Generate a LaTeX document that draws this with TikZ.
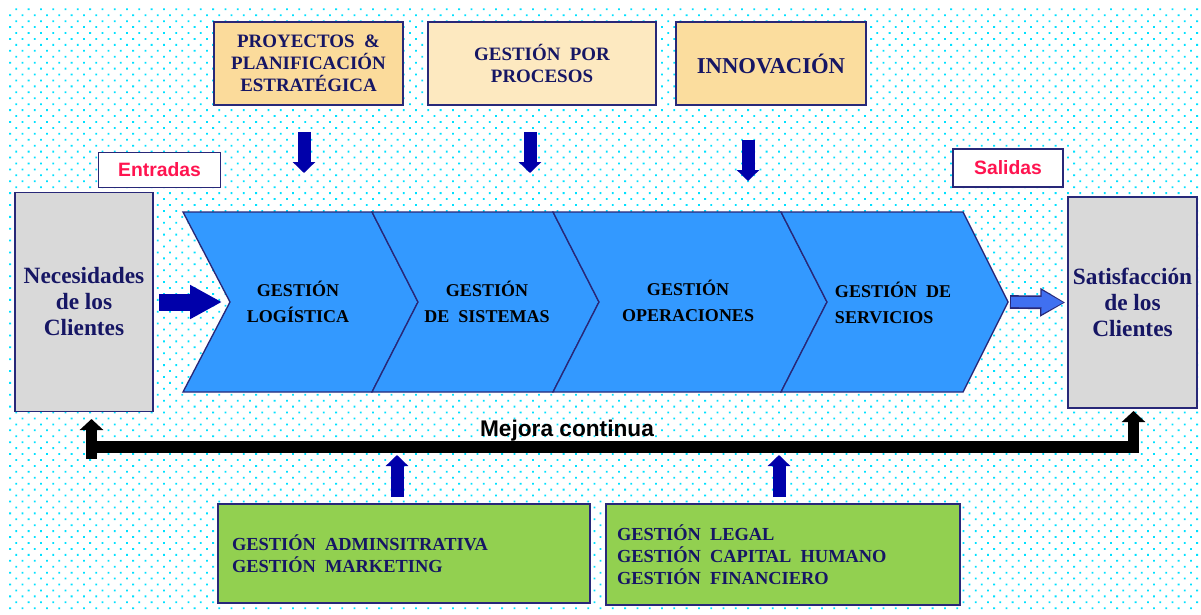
\documentclass[tikz,border=0pt]{standalone}
\usepackage{fontspec}
\setmainfont{Liberation Serif}
\setsansfont{Liberation Sans}
\usetikzlibrary{arrows.meta,calc}

\definecolor{navy}{RGB}{40,40,120}
\definecolor{txtnavy}{RGB}{22,22,100}
\definecolor{orangeA}{RGB}{251,219,155}
\definecolor{orangeB}{RGB}{253,233,192}
\definecolor{orangeC}{RGB}{251,221,158}
\definecolor{boxgray}{RGB}{217,217,217}
\definecolor{chevblue}{RGB}{51,153,255}
\definecolor{boxgreen}{RGB}{146,208,80}
\definecolor{arrblue}{RGB}{0,0,170}
\definecolor{outblue}{RGB}{64,112,240}
\definecolor{entred}{RGB}{255,20,80}
\definecolor{dotcyan}{RGB}{0,225,255}

\begin{document}
\begin{tikzpicture}[x=0.75pt,y=-0.75pt,
  topbox/.style={draw=navy, line width=1.2pt, minimum height=62.25pt, inner sep=0pt,
    align=center, text=txtnavy, font=\bfseries\fontsize{14.2}{16.5}\selectfont},
  labelbox/.style={draw=navy, fill=white, line width=1.2pt, inner sep=0pt, text=entred,
    font=\sffamily\bfseries\fontsize{14.5}{17}\selectfont},
  graybox/.style={draw=navy, fill=boxgray, line width=1.2pt, inner sep=0pt, align=center,
    text=txtnavy, font=\bfseries\fontsize{17.5}{19.5}\selectfont},
  chev/.style={draw=navy, fill=chevblue, line width=1pt, line join=miter},
  chevtext/.style={align=center, inner sep=0pt, text=black,
    font=\bfseries\fontsize{13.5}{19}\selectfont},
  greenbox/.style={draw=navy, fill=boxgreen, line width=1.2pt, align=left, text=txtnavy,
    font=\bfseries\fontsize{13.8}{16.5}\selectfont},
  vertarr/.style={line width=9.75pt, draw=arrblue, -{Triangle[length=8.25pt,width=16.5pt]}},
  leftarr/.style={line width=12.75pt, draw=arrblue, -{Triangle[length=24pt,width=24pt]}},
  fb/.style={line width=8.5pt, draw=black, line join=miter, -{Triangle[length=8.25pt,width=17.25pt]}}
]
\useasboundingbox (0,0) rectangle (1201,614);
\fill[white] (0,0) rectangle (1201,614);
% dotted background
\foreach \r in {0,...,101} {
  \pgfmathsetmacro\yy{9.3+5.93*\r}
  \pgfmathsetmacro\xo{mod(\r,2)==0 ? 16.3 : 10.1}
  \fill[dotcyan] \foreach \c in {0,...,96} { ({\xo+12.3*\c-0.9},{\yy-0.9}) rectangle ++(1.8,1.8) };
}

% top boxes
\node[topbox, fill=orangeA, minimum width=141.75pt] (proy) at (308.5,63.5)
  {PROYECTOS\hspace{0.5em}\&\\PLANIFICACIÓN\\ESTRATÉGICA};
\node[topbox, fill=orangeB, minimum width=171pt] (proc) at (542,63.5)
  {GESTIÓN\hspace{0.5em}POR\\PROCESOS};
\node[topbox, fill=orangeC, minimum width=142.5pt, font=\bfseries\fontsize{17}{20}\selectfont] (innov) at (771,63.5)
  {INNOVACIÓN};

% down arrows
\coordinate (d1s) at (304,132); \coordinate (d1e) at (304,173);
\coordinate (d2s) at (530,132); \coordinate (d2e) at (530,173);
\coordinate (d3s) at (748,140); \coordinate (d3e) at (748,181);
\draw[vertarr] (d1s) -- (d1e);
\draw[vertarr] (d2s) -- (d2e);
\draw[vertarr] (d3s) -- (d3e);

% label boxes
\node[labelbox, minimum width=91.5pt, minimum height=26.25pt] (entr) at (159.5,170) {Entradas};
\node[labelbox, minimum width=82.5pt, minimum height=28.5pt] (sal) at (1008,168) {Salidas};

% gray boxes
\node[graybox, minimum width=103.5pt, minimum height=164.25pt] (nec) at (84,302)
  {Necesidades\\de los\\Clientes};
\node[graybox, minimum width=96.75pt, minimum height=158.25pt] (sat) at (1132.5,302.5)
  {Satisfacción\\de los\\Clientes};

% chevrons
\draw[chev] (183,212) -- (372,212) -- (418,302) -- (372,392) -- (183,392) -- (230,302) -- cycle;
\draw[chev] (372,212) -- (553,212) -- (599,302) -- (553,392) -- (372,392) -- (418,302) -- cycle;
\draw[chev] (553,212) -- (781,212) -- (827,302) -- (781,392) -- (553,392) -- (599,302) -- cycle;
\draw[chev] (781,212) -- (963,212) -- (1008,302) -- (963,392) -- (781,392) -- (827,302) -- cycle;
\coordinate (notch1) at (230,302);
\coordinate (tip4) at (1008,302);

\node[chevtext] (c1) at (298,302) {GESTIÓN\\LOGÍSTICA};
\node[chevtext] (c2) at (487,302) {GESTIÓN\\DE\hspace{0.5em}SISTEMAS};
\node[chevtext] (c3) at (688,301) {GESTIÓN\\OPERACIONES};
\node[chevtext, align=left] (c4) at (893,303) {GESTIÓN\hspace{0.5em}DE\\SERVICIOS};

% input / output arrows
\draw[leftarr] ([xshift=3.75pt]nec.east) -- ([xshift=-6pt]notch1);
\draw[line width=10.25pt, draw=navy, -{Triangle[length=18.75pt,width=20.25pt]}]
  ([xshift=1.5pt]tip4) -- ([xshift=-1.5pt]sat.west);
\draw[line width=7.75pt, draw=outblue, -{Triangle[length=16.5pt,width=16.75pt]}]
  ([xshift=2.25pt]tip4) -- ([xshift=-2.75pt]sat.west);

% feedback loop
\coordinate (fbL0) at (91.5,459);
\coordinate (fbL1) at (91.5,419);
\coordinate (fbB) at (91.5,447);
\coordinate (fbR) at (1133.5,447);
\coordinate (fbR1) at (1133.5,411);
\draw[fb] (fbL0) -- (fbL1);
\draw[fb] (fbB) -- (fbR) -- (fbR1);
\node[font=\sffamily\bfseries\fontsize{17}{20}\selectfont, inner sep=0pt] (mej) at (567,431) {Mejora continua};

% up arrows
\coordinate (u1s) at (397,497); \coordinate (u1e) at (397,455);
\coordinate (u2s) at (779,497); \coordinate (u2e) at (779,455);
\draw[vertarr] (u1s) -- (u1e);
\draw[vertarr] (u2s) -- (u2e);

% green boxes
\node[greenbox, minimum width=279pt, minimum height=74.25pt, inner xsep=10.5pt, text width=258pt] (g1) at (404,553.5)
  {GESTIÓN\hspace{0.5em}ADMINSITRATIVA\\GESTIÓN\hspace{0.5em}MARKETING};
\node[greenbox, minimum width=265.5pt, minimum height=75.75pt, inner xsep=8.25pt, text width=249pt] (g2) at (783,554.5)
  {GESTIÓN\hspace{0.5em}LEGAL\\GESTIÓN\hspace{0.5em}CAPITAL\hspace{0.5em}HUMANO\\GESTIÓN\hspace{0.5em}FINANCIERO};
\end{tikzpicture}
\end{document}
